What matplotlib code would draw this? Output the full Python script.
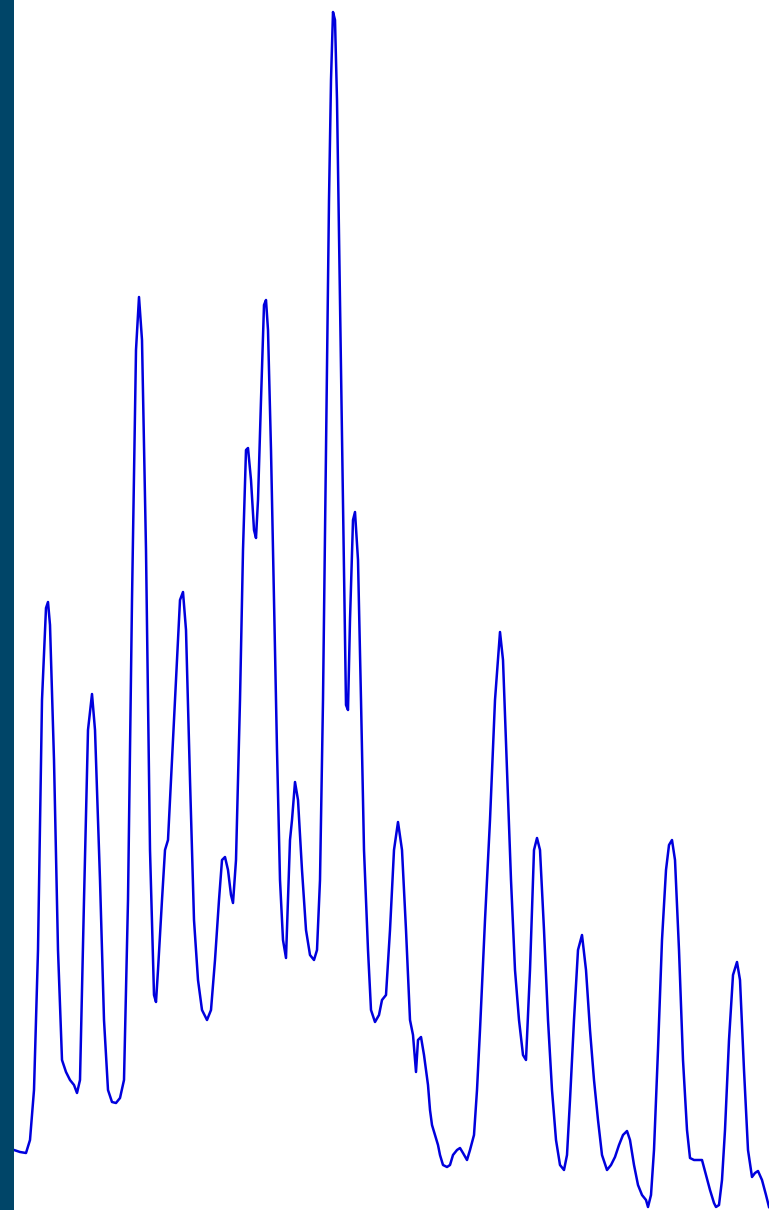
import numpy as np
import matplotlib
matplotlib.use("Agg")
from matplotlib import pyplot as plt
from matplotlib.patches import Rectangle

# sample position and signal height
t = [14, 20, 26, 30, 34, 38, 42, 46, 48, 50, 54, 58, 62, 66, 70, 74, 77, 80, 84, 88,
     92, 95, 100, 104, 108, 112, 116, 120, 124, 128, 132, 136, 139, 142, 146, 150, 154, 156, 158, 162,
     165, 168, 172, 176, 180, 183, 186, 190, 194, 198, 202, 207, 211, 215, 219, 222, 225, 228, 231, 233,
     236, 240, 243, 246, 248, 251, 254, 256, 258, 261, 264, 266, 268, 271, 274, 277, 280, 283, 286, 288,
     290, 292, 295, 298, 302, 306, 310, 314, 317, 320, 323, 326, 329, 331, 333, 335, 337, 340, 343, 346,
     348, 350, 353, 355, 358, 361, 364, 368, 371, 375, 379, 382, 386, 390, 394, 398, 402, 406, 410, 413,
     416, 418, 421, 424, 428, 430, 432, 435, 438, 440, 443, 447, 450, 453, 457, 460, 463, 467, 470, 474,
     477, 480, 485, 490, 495, 500, 503, 507, 511, 515, 519, 523, 526, 530, 534, 537, 540, 544, 548, 552,
     556, 560, 564, 567, 570, 574, 578, 582, 586, 590, 594, 598, 602, 607, 611, 615, 619, 623, 627, 630,
     634, 638, 642, 646, 648, 651, 654, 658, 662, 666, 669, 672, 675, 679, 683, 687, 690, 694, 698, 702,
     706, 710, 714, 716, 719, 722, 725, 729, 733, 737, 740, 744, 748, 752, 755, 758, 762, 766, 769]
signal = [1150, 1152, 1153, 1140, 1090, 950, 700, 608, 602, 625, 760, 950, 1060, 1072, 1080, 1085, 1093, 1080, 900, 730,
          694, 730, 880, 1020, 1090, 1102, 1103, 1098, 1080, 900, 600, 350, 297, 340, 550, 850, 995, 1002, 970, 900,
          850, 840, 760, 680, 600, 592, 630, 780, 920, 980, 1010, 1020, 1010, 960, 900, 860, 857, 870, 895, 903,
          860, 700, 550, 450, 448, 480, 530, 538, 500, 400, 305, 300, 330, 450, 600, 750, 880, 940, 958, 900,
          840, 820, 782, 800, 870, 930, 955, 960, 950, 880, 700, 450, 200, 80, 12, 20, 100, 300, 500, 705,
          710, 620, 520, 512, 560, 700, 850, 950, 1010, 1022, 1015, 1000, 995, 930, 850, 822, 850, 930, 1020, 1035,
          1072, 1040, 1037, 1055, 1085, 1110, 1125, 1135, 1145, 1155, 1165, 1167, 1165, 1155, 1150, 1148, 1153, 1160, 1150, 1135,
          1090, 1030, 920, 820, 700, 632, 660, 770, 880, 970, 1020, 1055, 1060, 970, 850, 838, 850, 930, 1020, 1090,
          1140, 1165, 1170, 1155, 1100, 1020, 950, 935, 970, 1030, 1080, 1120, 1155, 1170, 1165, 1157, 1145, 1135, 1131, 1140,
          1165, 1185, 1195, 1200, 1207, 1195, 1150, 1050, 940, 870, 845, 840, 860, 950, 1060, 1130, 1158, 1160, 1160, 1160,
          1175, 1190, 1203, 1207, 1205, 1180, 1130, 1040, 975, 962, 980, 1070, 1150, 1177, 1173, 1171, 1180, 1195, 1207]
signal = [1210 - v for v in signal]

fig = plt.figure(figsize=(7.69, 12.10), dpi=100)
# dark strip on the left edge
fig.patches.append(Rectangle((0, 0), 14 / 769, 1, transform=fig.transFigure,
                             facecolor="#004568", edgecolor="none"))
ax = fig.add_axes([14 / 769, 0, 1 - 14 / 769, 1])
ax.plot(t, signal, color="#0000dd", linewidth=1.8, solid_joinstyle="round")
ax.set_xlim(14, 769)
ax.set_ylim(0, 1210)
ax.axis("off")
fig.savefig("out.png", dpi=100)
